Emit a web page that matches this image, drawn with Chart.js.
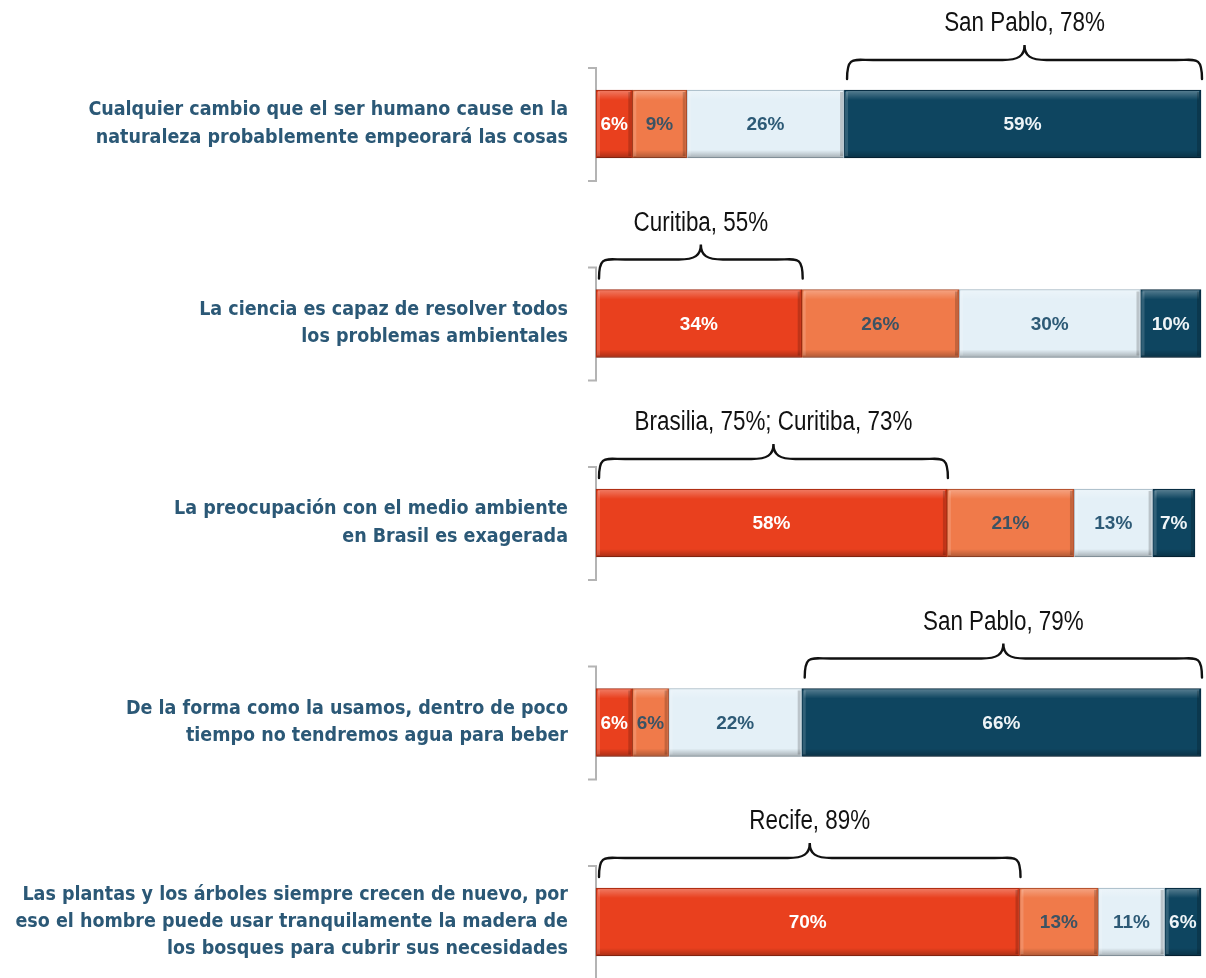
<!DOCTYPE html>
<html>
<head>
<meta charset="utf-8">
<script src="https://cdn.jsdelivr.net/npm/chart.js@4/dist/chart.umd.min.js"></script>
<style>
  html, body { margin: 0; padding: 0; background: #fff; }
  #wrap { width: 1206px; height: 978px; position: relative; }
</style>
</head>
<body>
<div id="wrap"><canvas id="actitudesChart"></canvas></div>
<script>
// statements (one bar each), multi-line labels as they appear on the left
const categories = [
  ["Cualquier cambio que el ser humano cause en la", "naturaleza probablemente empeorará las cosas"],
  ["La ciencia es capaz de resolver todos", "los problemas ambientales"],
  ["La preocupación con el medio ambiente", "en Brasil es exagerada"],
  ["De la forma como la usamos, dentro de poco", "tiempo no tendremos agua para beber"],
  ["Las plantas y los árboles siempre crecen de nuevo, por", "eso el hombre puede usar tranquilamente la madera de", "los bosques para cubrir sus necesidades"]
];

// the four answer groups, left to right (%)
const serieRoja = [6, 34, 58, 6, 70];
const serieNaranja = [9, 26, 21, 6, 13];
const serieCeleste = [26, 30, 13, 22, 11];
const serieAzul = [59, 10, 7, 66, 6];

// braces above each bar: text and which segments they cover
const bracketTexts = ["San Pablo, 78%", "Curitiba, 55%", "Brasilia, 75%; Curitiba, 73%", "San Pablo, 79%", "Recife, 89%"];
const bracketFrom = [3, 0, 0, 3, 0];
const bracketTo = [3, 0, 0, 3, 0];

const labelFont = "'DejaVu Sans Condensed', 'Liberation Sans Narrow', sans-serif";

// grey "[" shaped axis pieces, one per bar
const axisPieces = {
  id: "axisPieces",
  beforeDatasetsDraw(chart) {
    const ctx = chart.ctx;
    const y = chart.scales.y;
    const left = chart.chartArea.left;
    ctx.save();
    ctx.strokeStyle = "#b4b4b4";
    ctx.lineWidth = 2;
    categories.forEach((c, i) => {
      const cy = y.getPixelForValue(i);
      ctx.beginPath();
      ctx.moveTo(left - 8, cy - 56);
      ctx.lineTo(left, cy - 56);
      ctx.lineTo(left, cy + 57);
      ctx.lineTo(left - 8, cy + 57);
      ctx.stroke();
    });
    ctx.restore();
  }
};

// bevel look, value labels and the braces
const barDecor = {
  id: "barDecor",
  afterDatasetsDraw(chart) {
    const ctx = chart.ctx;
    const xs = chart.scales.x;
    const textColors = ["#ffffff", "#3b5364", "#2d5a76", "#eef4f7"];
    ctx.save();
    chart.data.datasets.forEach((ds, di) => {
      const meta = chart.getDatasetMeta(di);
      meta.data.forEach((bar, i) => {
        const p = bar.getProps(["x", "y", "base", "height"], true);
        const x0 = Math.min(p.x, p.base), x1 = Math.max(p.x, p.base);
        const top = p.y - p.height / 2, bot = p.y + p.height / 2;
        const w = x1 - x0;
        // top highlight
        let g = ctx.createLinearGradient(0, top, 0, top + 10);
        g.addColorStop(0, "rgba(255,255,255,0.32)");
        g.addColorStop(1, "rgba(255,255,255,0)");
        ctx.fillStyle = g;
        ctx.fillRect(x0 + 2, top + 1, w - 4, 10);
        // bottom shade
        g = ctx.createLinearGradient(0, bot - 8, 0, bot);
        g.addColorStop(0, "rgba(0,0,0,0)");
        g.addColorStop(1, "rgba(0,0,0,0.28)");
        ctx.fillStyle = g;
        ctx.fillRect(x0 + 1, bot - 8, w - 2, 8);
        // side edges
        ctx.fillStyle = "rgba(255,255,255,0.15)";
        ctx.fillRect(x0 + 1, top + 2, 3, p.height - 4);
        ctx.fillStyle = "rgba(0,0,0,0.18)";
        ctx.fillRect(x1 - 4, top + 2, 3, p.height - 4);
        // value
        ctx.fillStyle = textColors[di];
        ctx.font = "bold 19px 'Liberation Sans', Arial, sans-serif";
        ctx.textAlign = "center";
        ctx.textBaseline = "middle";
        ctx.fillText(ds.data[i] + "%", (x0 + x1) / 2, p.y + 1);
      });
    });

    // braces
    const sets = chart.data.datasets;
    ctx.strokeStyle = "#111";
    ctx.lineWidth = 2.4;
    ctx.lineCap = "round";
    bracketTexts.forEach((txt, i) => {
      let s = 0;
      for (let k = 0; k < bracketFrom[i]; k++) s += sets[k].data[i];
      let e = s;
      for (let k = bracketFrom[i]; k <= bracketTo[i]; k++) e += sets[k].data[i];
      const bx0 = xs.getPixelForValue(s) + 3;
      const bx1 = xs.getPixelForValue(e) + 1;
      const bar = chart.getDatasetMeta(0).data[i].getProps(["y", "height"], true);
      const top = bar.y - bar.height / 2;
      const yEnd = top - 11, yH = top - 30, yTip = top - 45;
      const xm = (bx0 + bx1) / 2;
      const r = 26, tw = 22;
      ctx.beginPath();
      ctx.moveTo(bx0, yEnd);
      ctx.bezierCurveTo(bx0, yH - 4, bx0 + 6, yH, bx0 + r, yH);
      ctx.lineTo(xm - tw, yH);
      ctx.bezierCurveTo(xm - 6, yH, xm, yH - 4, xm, yTip);
      ctx.bezierCurveTo(xm, yH - 4, xm + 6, yH, xm + tw, yH);
      ctx.lineTo(bx1 - r, yH);
      ctx.bezierCurveTo(bx1 - 6, yH, bx1, yH - 4, bx1, yEnd);
      ctx.stroke();
      // narrow lettering: Liberation Sans squeezed horizontally
      ctx.save();
      ctx.translate(xm, top - 66);
      ctx.scale(0.83, 1);
      ctx.fillStyle = "#111";
      ctx.font = "27px 'Liberation Sans', Arial, sans-serif";
      ctx.textAlign = "center";
      ctx.textBaseline = "middle";
      ctx.fillText(txt, 0, 0);
      ctx.restore();
    });
    ctx.restore();
  }
};

new Chart(document.getElementById("actitudesChart"), {
  type: "bar",
  data: {
    labels: categories,
    datasets: [
      { label: "Rojo", data: serieRoja, backgroundColor: "#e9401e", borderColor: "#9c2a12" },
      { label: "Naranja", data: serieNaranja, backgroundColor: "#f07a4a", borderColor: "#a4492a" },
      { label: "Celeste", data: serieCeleste, backgroundColor: "#e4f0f7", borderColor: "#9fb3bf" },
      { label: "Azul", data: serieAzul, backgroundColor: "#0e4560", borderColor: "#06263a" }
    ]
  },
  options: {
    indexAxis: "y",
    responsive: true,
    maintainAspectRatio: false,
    animation: false,
    layout: { padding: { top: 124, bottom: 56, left: 0, right: 5 } },
    datasets: {
      bar: { barThickness: 68, borderWidth: 1, borderSkipped: false, clip: false }
    },
    plugins: {
      legend: { display: false },
      tooltip: { enabled: false }
    },
    scales: {
      x: { stacked: true, min: 0, max: 100, display: false },
      y: {
        stacked: true,
        offset: false,
        grid: { display: false, drawTicks: false },
        border: { display: false },
        afterFit: (scale) => { scale.width = 596; },
        ticks: {
          padding: 28,
          color: "#2b5876",
          font: { family: labelFont, size: 19.5, weight: "bold", lineHeight: 1.4 }
        }
      }
    }
  },
  plugins: [axisPieces, barDecor]
});
</script>
</body>
</html>
